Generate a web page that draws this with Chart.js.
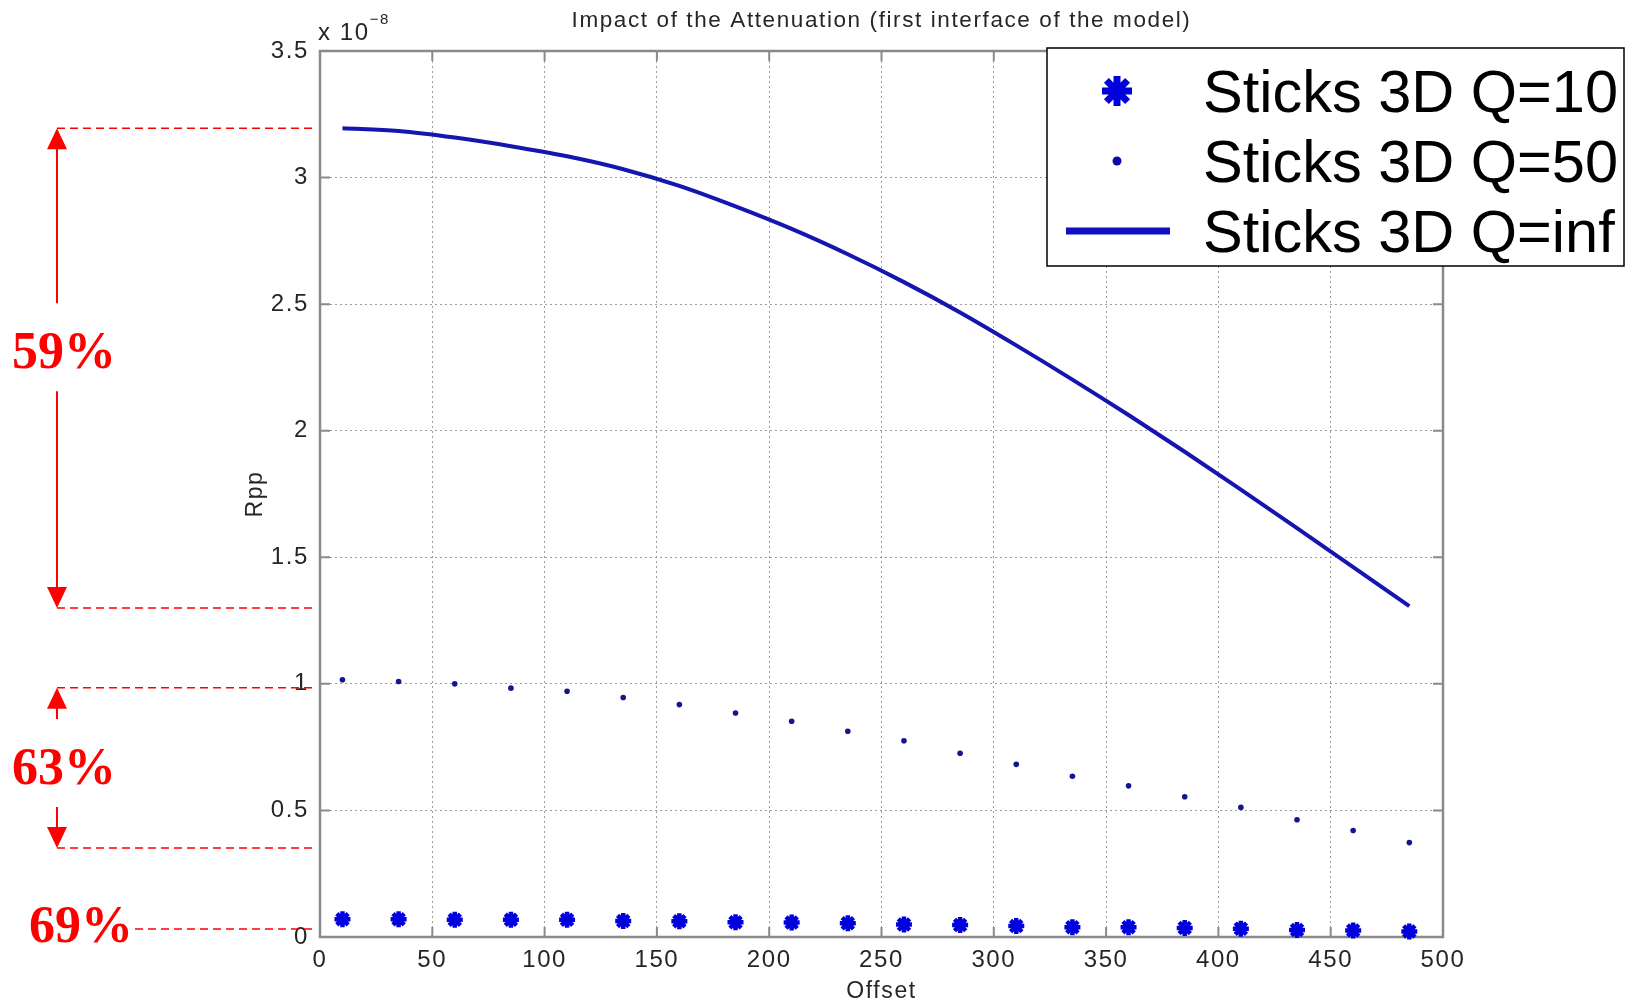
<!DOCTYPE html>
<html>
<head>
<meta charset="utf-8">
<title>Impact of the Attenuation</title>
<script src="https://cdn.jsdelivr.net/npm/chart.js@4/dist/chart.umd.min.js"></script>
<style>
  html, body { margin: 0; padding: 0; background: #ffffff; }
  canvas { display: block; }
</style>
</head>
<body>
<canvas id="rppChart" width="1628" height="1005"></canvas>
<script>
// Source-receiver offsets at which Rpp was modelled
const offsets = [10, 35, 60, 85, 110, 135, 160, 185, 210, 235, 260, 285, 310, 335, 360, 385, 410, 435, 460, 485];

// Rpp amplitude, in units of 1e-8, for each attenuation level
const rppQ10 = [0.070, 0.070, 0.068, 0.068, 0.068, 0.063, 0.062, 0.058, 0.057, 0.054,
                0.049, 0.047, 0.043, 0.039, 0.039, 0.036, 0.033, 0.028, 0.026, 0.022];
const rppQ50 = [1.016, 1.009, 1.000, 0.983, 0.971, 0.946, 0.918, 0.885, 0.852, 0.813,
                0.775, 0.726, 0.682, 0.635, 0.597, 0.554, 0.512, 0.463, 0.421, 0.373];
const rppQinf = [3.195, 3.184, 3.158, 3.124, 3.084, 3.033, 2.967, 2.886, 2.797, 2.697,
                 2.587, 2.467, 2.337, 2.202, 2.062, 1.917, 1.767, 1.615, 1.461, 1.307];

const seriesNames = ['Sticks 3D Q=10', 'Sticks 3D Q=50', 'Sticks 3D Q=inf'];

const xTickLabels = ['0', '50', '100', '150', '200', '250', '300', '350', '400', '450', '500'];
const yTickLabels = ['0', '0.5', '1', '1.5', '2', '2.5', '3', '3.5'];

const chartTitle = 'Impact of the Attenuation (first interface of the model)';
const xAxisTitle = 'Offset';
const yAxisTitle = 'Rpp';
const yScaleBase = 'x 10';
const yScaleExponent = '\u22128';

// Amplitude loss between first and last offset, marked to the left of the axes
const dropLabels = ['59%', '63%', '69%'];
const dropFrom = [3.195, 0.985, 0.032];
const dropTo = [1.300, 0.352, 0.032];
const dropLabelLevel = [2.318, 0.676, 0.051];

const FONT = "'Liberation Sans', Arial, Helvetica, sans-serif";
const TEXT = '#262626';
const AXIS = '#8a8a8a';
const GRID = 'rgba(140,140,140,0.85)';
const RED = '#ff0000';
const TICK_LEN = 10;

const toPoints = (vals) => vals.map((v, i) => ({ x: offsets[i], y: v }));

// Inward ticks and the full frame around the plotting area
const axesFrame = {
  id: 'axesFrame',
  beforeDatasetsDraw(chart) {
    const { ctx, chartArea: a, scales: { x, y } } = chart;
    ctx.save();
    ctx.letterSpacing = '0px';
    ctx.strokeStyle = AXIS;
    ctx.lineWidth = 2;
    ctx.beginPath();
    x.ticks.forEach(t => {
      const px = x.getPixelForValue(t.value);
      ctx.moveTo(px, a.bottom); ctx.lineTo(px, a.bottom - TICK_LEN);
      ctx.moveTo(px, a.top); ctx.lineTo(px, a.top + TICK_LEN);
    });
    y.ticks.forEach(t => {
      const py = y.getPixelForValue(t.value);
      ctx.moveTo(a.left, py); ctx.lineTo(a.left + TICK_LEN, py);
      ctx.moveTo(a.right, py); ctx.lineTo(a.right - TICK_LEN, py);
    });
    ctx.stroke();
    ctx.lineWidth = 2.5;
    ctx.strokeRect(a.left, a.top, a.right - a.left, a.bottom - a.top);
    ctx.restore();
  }
};

// Wider glyph advance for the axis texts
const textSpacing = {
  id: 'textSpacing',
  beforeDraw(chart) {
    chart.ctx.letterSpacing = '1.6px';
    chart.ctx.fillStyle = '#ffffff';
    chart.ctx.fillRect(0, 0, chart.width, chart.height);
  }
};

function drawAsterisk(ctx, cx, cy, r, w, color) {
  ctx.save();
  ctx.strokeStyle = color;
  ctx.lineWidth = w;
  ctx.beginPath();
  for (let k = 0; k < 4; k++) {
    const ang = k * Math.PI / 4;
    const dx = Math.cos(ang) * r, dy = Math.sin(ang) * r;
    ctx.moveTo(cx - dx, cy - dy);
    ctx.lineTo(cx + dx, cy + dy);
  }
  ctx.stroke();
  ctx.restore();
}

function drawArrowHead(ctx, x, tipY, dir) {
  // dir = -1 points up, +1 points down
  const h = 21, hw = 10;
  ctx.beginPath();
  ctx.moveTo(x, tipY);
  ctx.lineTo(x - hw, tipY - dir * h);
  ctx.lineTo(x + hw, tipY - dir * h);
  ctx.closePath();
  ctx.fill();
}

// Exponent label, legend and amplitude-loss annotations
const overlays = {
  id: 'overlays',
  afterDraw(chart) {
    const { ctx, chartArea: a, scales: { y } } = chart;
    ctx.save();

    // Common exponent of the y axis
    ctx.letterSpacing = '1.6px';
    ctx.fillStyle = TEXT;
    ctx.textBaseline = 'alphabetic';
    ctx.textAlign = 'left';
    ctx.font = `24px ${FONT}`;
    ctx.fillText(yScaleBase, a.left - 2, 40);
    const baseW = ctx.measureText(yScaleBase).width;
    ctx.font = `15px ${FONT}`;
    ctx.fillText(yScaleExponent, a.left - 2 + baseW, 24);

    // Legend box
    ctx.letterSpacing = '0px';
    const lx = 1047, ly = 48, lw = 577, lh = 218;
    ctx.fillStyle = '#ffffff';
    ctx.fillRect(lx, ly, lw, lh);
    ctx.strokeStyle = '#000000';
    ctx.lineWidth = 1.5;
    ctx.strokeRect(lx, ly, lw, lh);

    const rows = [91, 161, 231];
    const markX = 1117;
    drawAsterisk(ctx, markX, rows[0], 15, 7, '#0000dd');
    ctx.fillStyle = '#0a0aa8';
    ctx.beginPath();
    ctx.arc(markX, rows[1], 4.5, 0, Math.PI * 2);
    ctx.fill();
    ctx.strokeStyle = '#1010c0';
    ctx.lineWidth = 7;
    ctx.beginPath();
    ctx.moveTo(1066, rows[2]);
    ctx.lineTo(1170, rows[2]);
    ctx.stroke();

    ctx.fillStyle = '#000000';
    ctx.font = `59.5px ${FONT}`;
    ctx.textAlign = 'left';
    ctx.textBaseline = 'alphabetic';
    seriesNames.forEach((name, i) => ctx.fillText(name, 1203, rows[i] + 21));

    // Amplitude-loss annotations
    ctx.strokeStyle = RED;
    ctx.fillStyle = RED;
    const ax = 57;
    const lineEnd = a.left - 3;
    ctx.lineWidth = 1.5;
    ctx.setLineDash([8, 5]);
    ctx.beginPath();
    for (let i = 0; i < 2; i++) {
      const y1 = y.getPixelForValue(dropFrom[i]);
      const y2 = y.getPixelForValue(dropTo[i]);
      ctx.moveTo(ax, y1); ctx.lineTo(lineEnd, y1);
      ctx.moveTo(ax, y2); ctx.lineTo(lineEnd, y2);
    }
    const y3 = y.getPixelForValue(dropFrom[2]);
    ctx.moveTo(135, y3); ctx.lineTo(lineEnd - 4, y3);
    ctx.stroke();
    ctx.setLineDash([]);

    ctx.lineWidth = 2;
    for (let i = 0; i < 2; i++) {
      const y1 = y.getPixelForValue(dropFrom[i]);
      const y2 = y.getPixelForValue(dropTo[i]);
      const yl = y.getPixelForValue(dropLabelLevel[i]);
      ctx.beginPath();
      ctx.moveTo(ax, y1 + 15); ctx.lineTo(ax, yl - 47);
      ctx.moveTo(ax, yl + 41); ctx.lineTo(ax, y2 - 15);
      ctx.stroke();
      drawArrowHead(ctx, ax, y1, -1);
      drawArrowHead(ctx, ax, y2, 1);
    }

    ctx.font = `bold 52px 'Liberation Serif', 'Times New Roman', serif`;
    ctx.textAlign = 'center';
    ctx.textBaseline = 'alphabetic';
    const labelX = [64, 64, 81];
    dropLabels.forEach((t, i) => {
      const yl = y.getPixelForValue(dropLabelLevel[i]);
      ctx.fillText(t, labelX[i], yl + 18);
    });

    ctx.restore();
  }
};

const tickFont = { family: FONT, size: 24 };
const titleFont = { family: FONT, size: 23 };

new Chart(document.getElementById('rppChart'), {
  type: 'scatter',
  data: {
    datasets: [
      {
        label: seriesNames[0],
        data: toPoints(rppQ10),
        pointStyle: 'star',
        pointRadius: 8,
        pointBorderWidth: 4.5,
        borderColor: '#0000dd',
        backgroundColor: '#0000dd',
        showLine: false,
        clip: false
      },
      {
        label: seriesNames[1],
        data: toPoints(rppQ50),
        pointStyle: 'circle',
        pointRadius: 2.8,
        pointBorderWidth: 0,
        borderColor: '#15158f',
        backgroundColor: '#15158f',
        showLine: false,
        clip: false
      },
      {
        label: seriesNames[2],
        data: toPoints(rppQinf),
        showLine: true,
        pointRadius: 0,
        borderWidth: 4,
        borderColor: '#1515b0',
        backgroundColor: '#1515b0',
        cubicInterpolationMode: 'monotone',
        clip: false
      }
    ]
  },
  options: {
    responsive: false,
    animation: false,
    devicePixelRatio: 1,
    layout: { padding: { left: 230, right: 185, top: 0, bottom: 0 } },
    plugins: {
      legend: { display: false },
      tooltip: { enabled: false },
      title: {
        display: true,
        text: chartTitle,
        color: TEXT,
        fullSize: false,
        font: { family: FONT, size: 22.5, weight: 'normal' },
        padding: { top: 7, bottom: 17 }
      }
    },
    scales: {
      x: {
        type: 'linear',
        min: 0,
        max: 500,
        afterFit: (s) => { s.height = 68; },
        ticks: {
          stepSize: 50,
          autoSkip: false,
          maxRotation: 0,
          padding: 8.6,
          color: TEXT,
          font: tickFont,
          callback: (v, i) => xTickLabels[i]
        },
        grid: { color: GRID, lineWidth: 1, drawTicks: false },
        border: { display: false, dash: [2, 3] },
        title: {
          display: true,
          text: xAxisTitle,
          color: TEXT,
          font: titleFont,
          padding: { top: 0, bottom: 0 }
        }
      },
      y: {
        type: 'linear',
        min: 0,
        max: 3.5,
        afterFit: (s) => { s.width = 90; },
        ticks: {
          stepSize: 0.5,
          autoSkip: false,
          padding: 11,
          color: TEXT,
          font: tickFont,
          callback: (v, i) => yTickLabels[i]
        },
        grid: { color: GRID, lineWidth: 1, drawTicks: false },
        border: { display: false, dash: [2, 3] },
        title: {
          display: true,
          text: yAxisTitle,
          color: TEXT,
          font: titleFont,
          padding: { top: 12, bottom: 0 }
        }
      }
    }
  },
  plugins: [textSpacing, axesFrame, overlays]
});
</script>
</body>
</html>
